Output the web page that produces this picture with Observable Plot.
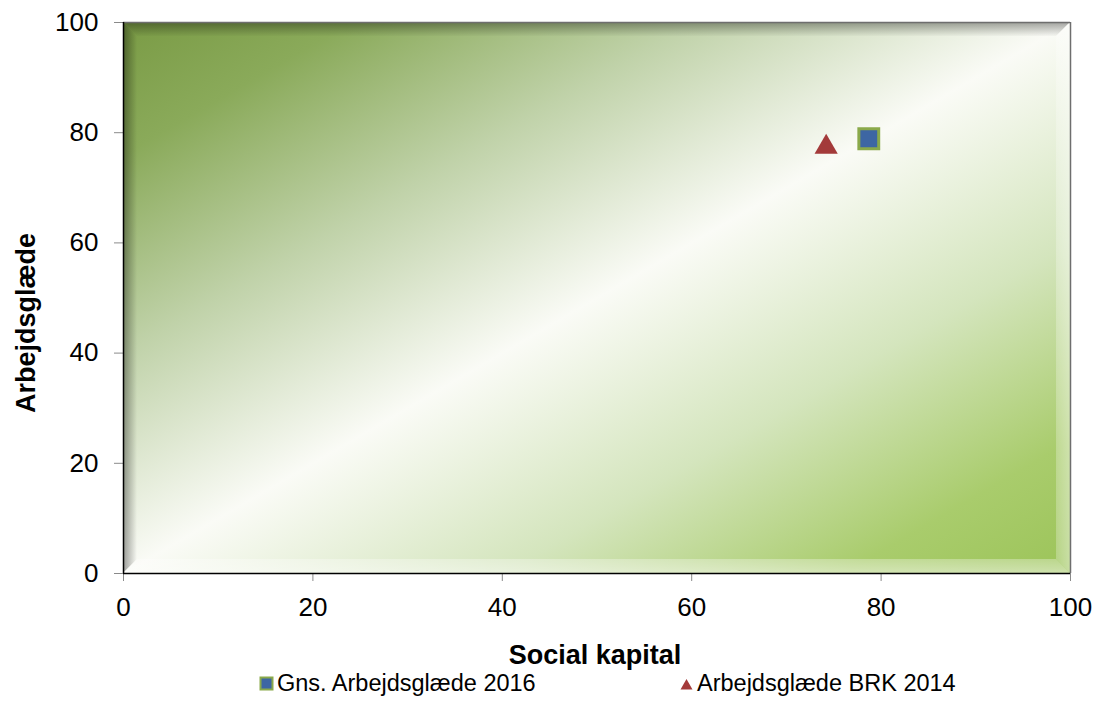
<!DOCTYPE html>
<html><head><meta charset="utf-8">
<script src="https://cdn.jsdelivr.net/npm/d3@7"></script>
<script src="https://cdn.jsdelivr.net/npm/@observablehq/plot@0.6"></script>
<style>
body{margin:0;background:#fff;font-family:"Liberation Sans",Arial,sans-serif;}
#wrap{position:relative;width:1095px;height:717px;}
#legend{position:absolute;top:668px;left:0;width:1095px;height:30px;font-size:23.5px;color:#000;}
.item{position:absolute;top:0;display:flex;align-items:center;height:30px;white-space:nowrap;}
.item svg{margin-right:3px;}
</style></head><body><div id="wrap"><div id="chart"></div><div id="legend"></div></div>
<script>
// ---- data ----
const seriesNames = ["Gns. Arbejdsglæde 2016", "Arbejdsglæde BRK 2014"];
const socialKapital = [78.7, 74.2];
const arbejdsglaede = [78.9, 77.4];
const xTicks = [0, 20, 40, 60, 80, 100];
const yTicks = [0, 20, 40, 60, 80, 100];
const xTitle = "Social kapital";
const yTitle = "Arbejdsglæde";

// ---- styles ----
const squareFill = "#3d66a3", squareStroke = "#8aa94a", triFill = "#a33a3a";

const points = seriesNames.map((s, i) => ({series: s, x: socialKapital[i], y: arbejdsglaede[i]}));

const chart = Plot.plot({
  width: 1095, height: 675,
  marginLeft: 123, marginRight: 25, marginTop: 22, marginBottom: 102,
  style: {fontFamily: '"Liberation Sans", Arial, sans-serif', fontSize: "26px", color: "#000", background: "transparent", overflow: "visible"},
  x: {domain: [0, 100]},
  y: {domain: [0, 100]},
  marks: [
    Plot.frame({fill: "url(#bgGrad)", stroke: "none"}),
    Plot.ruleY([100], {stroke: "#6e6e6e", strokeWidth: 1.5}),
    Plot.ruleX([100], {stroke: "#6e6e6e", strokeWidth: 1.5}),
    Plot.axisX({ticks: xTicks, tickSize: 8, tickPadding: 16, stroke: "#8a8a8a", fill: "#000", label: null, fontSize: 26}),
    Plot.axisY({ticks: yTicks, tickSize: 9, tickPadding: 16, stroke: "#8a8a8a", fill: "#000", label: null, fontSize: 26}),
    Plot.ruleX([0], {stroke: "#000", strokeWidth: 1.5}),
    Plot.ruleY([0], {stroke: "#000", strokeWidth: 1.5}),
    Plot.dot(points.filter(d => d.series === seriesNames[1]), {x: "x", y: "y", symbol: "triangle", r: 8.6, fill: triFill, stroke: "none"}),
    Plot.dot(points.filter(d => d.series === seriesNames[0]), {x: "x", y: "y", symbol: "square", r: 11.2, fill: squareFill, stroke: squareStroke, strokeWidth: 3}),
    Plot.text([xTitle], {text: d => d, frameAnchor: "bottom", dy: 82, textAnchor: "middle", lineAnchor: "middle", fontWeight: "bold", fontSize: 27, dx: -2}),
    Plot.text([yTitle], {text: d => d, frameAnchor: "left", dx: -97, dy: 25, rotate: -90, textAnchor: "middle", lineAnchor: "middle", fontWeight: "bold", fontSize: 27})
  ]
});

// gradient defs + bevel decoration
const svg = d3.select(chart);
const defs = svg.insert("defs", ":first-child");
const g = defs.append("linearGradient").attr("id", "bgGrad").attr("x1", 0).attr("y1", 0).attr("x2", 1).attr("y2", 1);
[[0, "#7a9b45"], [0.12, "#8aaa5a"], [0.3, "#c0d2a9"], [0.5, "#fafbf6"], [0.7, "#d4e5bd"], [0.88, "#a9cc6c"], [1, "#9cc459"]]
  .forEach(([o, c]) => g.append("stop").attr("offset", o).attr("stop-color", c));
function lg(id, x2, y2, stops) {
  const l = defs.append("linearGradient").attr("id", id).attr("x1", 0).attr("y1", 0).attr("x2", x2).attr("y2", y2);
  stops.forEach(([o, c, a]) => l.append("stop").attr("offset", o).attr("stop-color", c).attr("stop-opacity", a));
}
lg("bvTop", 0, 1, [[0, "#000", 0.35], [1, "#000", 0.02]]);
lg("bvLeft", 1, 0, [[0, "#000", 0.38], [1, "#000", 0.0]]);
lg("bvBottom", 0, 1, [[0, "#fff", 0.3], [1, "#fff", 0.5]]);
lg("bvRight", 1, 0, [[0, "#fff", 0.25], [1, "#fff", 0.45]]);
const [x0, x1] = chart.scale("x").range;
const [y1, y0] = chart.scale("y").range;
const b = 14;
const bev = svg.insert("g", "g[aria-label='rule']");
const poly = (pts, fill) => bev.append("polygon").attr("points", pts.map(p => p.join(",")).join(" ")).attr("fill", fill);
poly([[x0, y0], [x1, y0], [x1 - b, y0 + b], [x0 + b, y0 + b]], "url(#bvTop)");
poly([[x0, y0], [x0 + b, y0 + b], [x0 + b, y1 - b], [x0, y1]], "url(#bvLeft)");
poly([[x0, y1], [x0 + b, y1 - b], [x1 - b, y1 - b], [x1, y1]], "url(#bvBottom)");
poly([[x1, y0], [x1, y1], [x1 - b, y1 - b], [x1 - b, y0 + b]], "url(#bvRight)");

document.getElementById("chart").appendChild(chart);

// legend
const legend = d3.select("#legend");
const lefts = [259, 679];
seriesNames.forEach((s, i) => {
  const it = legend.append("div").attr("class", "item").style("left", lefts[i] + "px");
  const sv = it.append("svg").attr("width", 15).attr("height", 15);
  if (i === 0) sv.append("rect").attr("x", 1.5).attr("y", 1.5).attr("width", 12).attr("height", 12).attr("fill", squareFill).attr("stroke", squareStroke).attr("stroke-width", 2);
  else sv.append("path").attr("d", "M7.5,3 L13.5,13.5 L1.5,13.5 Z").attr("fill", triFill);
  it.append("span").text(s);
});
</script></body></html>
